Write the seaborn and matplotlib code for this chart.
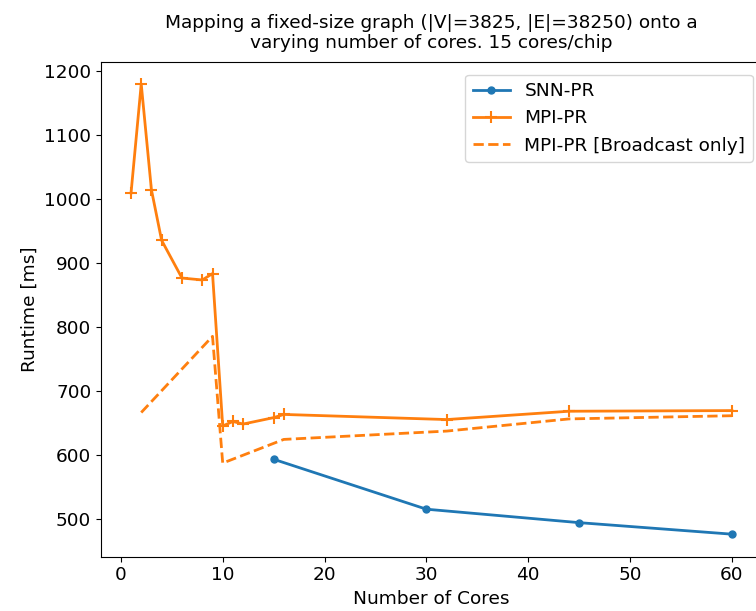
import matplotlib
matplotlib.use("Agg")
import matplotlib.pyplot as plt
import seaborn as sns
import pandas as pd

# Data
snn_cores = [15, 30, 45, 60]
snn_runtime = [594, 516, 495, 477]

mpi_cores = [1, 2, 3, 4, 6, 8, 9, 10, 11, 12, 15, 16, 32, 44, 60]
mpi_runtime = [1010, 1180, 1015, 936, 877, 874, 884, 646, 653, 649, 659, 664, 656, 669, 670]

bc_cores = [2, 9, 10, 16, 32, 44, 60]
bc_runtime = [667, 786, 588, 625, 638, 657, 662]

title = "Mapping a fixed-size graph (|V|=3825, |E|=38250) onto a\nvarying number of cores. 15 cores/chip"

FS = 13.3
plt.rcParams["font.family"] = ["DejaVu Sans"]
plt.rcParams["font.size"] = FS

fig = plt.figure(figsize=(7.56, 6.11), dpi=100)
ax = fig.add_axes([0.1336, 0.0889, 0.8743, 0.8104])

blue = "#1f77b4"
orange = "#ff7f0e"

sns.lineplot(x=snn_cores, y=snn_runtime, ax=ax, color=blue, marker=".",
             markersize=10, markeredgecolor=blue, markeredgewidth=1.0,
             linewidth=2, label="SNN-PR", sort=False, estimator=None)
sns.lineplot(x=mpi_cores, y=mpi_runtime, ax=ax, color=orange, marker="+",
             markersize=9, markeredgecolor=orange, markeredgewidth=1.5,
             linewidth=2, label="MPI-PR", sort=False, estimator=None)
sns.lineplot(x=bc_cores, y=bc_runtime, ax=ax, color=orange, linestyle="--",
             linewidth=2, label="MPI-PR [Broadcast only]", sort=False, estimator=None)

ax.set_title(title, fontsize=FS, pad=9.5)
ax.set_xlabel("Number of Cores", fontsize=FS)
ax.set_ylabel("Runtime [ms]", fontsize=FS)
ax.set_xticks([0, 10, 20, 30, 40, 50, 60])
ax.set_yticks([500, 600, 700, 800, 900, 1000, 1100, 1200])
ax.tick_params(labelsize=FS)
ax.legend(loc="upper right", fontsize=FS, bbox_to_anchor=(1.0, 0.992))

fig.savefig("out.png", dpi=100)
